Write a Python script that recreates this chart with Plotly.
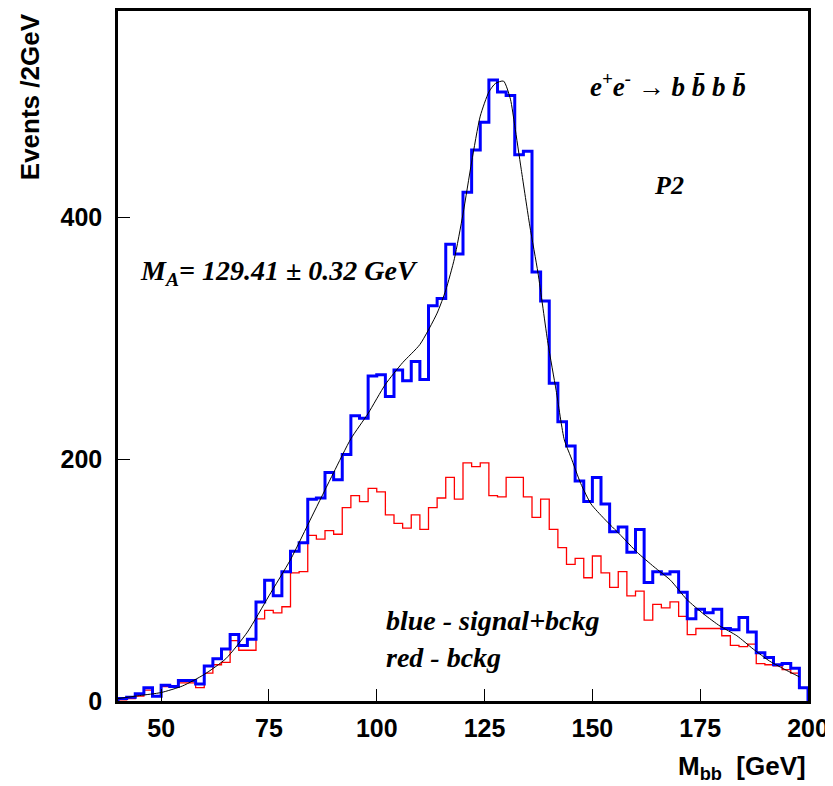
import numpy as np
import plotly.graph_objects as go

# ---- data ----
bin_low = 40.0
bin_width = 2.0
signal_plus_bckg = [2, 3, 6, 11, 4, 13, 12, 17, 17, 14,
                    29, 35, 43, 55, 46, 51, 82, 100, 87, 107,
                    124, 131, 167, 168, 189, 183, 204, 236, 234, 269,
                    270, 252, 274, 265, 281, 266, 327, 333, 378, 370,
                    421, 456, 479, 514, 504, 501, 452, 455, 355, 331,
                    263, 231, 211, 182, 165, 185, 163, 140, 144, 123,
                    142, 98, 107, 105, 107, 90, 68, 76, 73, 76,
                    60, 59, 69, 57, 40, 36, 30, 31, 27, 11]
bckg = [1, 2, 4, 9, 4, 12, 12, 15, 15, 11,
        23, 30, 32, 50, 42, 42, 68, 75, 73, 78,
        106, 107, 137, 134, 141, 138, 160, 170, 165, 176,
        173, 154, 147, 143, 154, 142, 160, 168, 185, 167,
        197, 194, 197, 170, 169, 185, 185, 169, 152, 167,
        142, 127, 113, 118, 102, 120, 106, 94, 107, 87,
        91, 67, 80, 77, 82, 70, 55, 60, 60, 60,
        54, 46, 45, 47, 31, 30, 29, 26, 23, 11]
fit_x = [40, 45, 50, 55, 60, 65, 70, 75, 80, 85, 90, 94, 98, 102, 106, 110,
         114, 116, 118, 120, 122, 124, 126, 127.5, 129.4, 131, 132, 133.5,
         135.5, 137.4, 139.7, 141.6, 143.5, 145, 147.3, 149.7, 152.7, 156.6,
         160.4, 164.3, 168.1, 171.9, 175.8, 179.6, 183.5, 187.3, 191.1, 195, 198]
fit_y = [2, 4.5, 7, 12.5, 22, 35, 57, 87, 117, 153, 189, 217, 238, 262, 280, 295,
         321, 340, 366, 403, 446, 484, 504, 511, 513, 498, 476, 440,
         393, 354, 296, 257, 216, 202, 180, 163, 151, 137,
         123, 111, 100, 84, 72, 62, 54, 43, 33, 25.4, 20]
x_ticks = [50, 75, 100, 125, 150, 175, 200]
y_ticks = [0, 200, 400]

nb = len(signal_plus_bckg)
edges = bin_low + bin_width * np.arange(nb + 1)


def step_xy(vals):
    xs = [edges[0]] + list(edges[:-1]) + [edges[-1], edges[-1]]
    ys = [0] + list(vals) + [vals[-1], 0]
    return xs, ys


fig = go.Figure()
bx, by = step_xy(bckg)
fig.add_trace(go.Scatter(x=bx, y=by, mode="lines", line=dict(color="#ff0000", width=1.3, shape="hv"),
                         hoverinfo="skip", showlegend=False))
sx, sy = step_xy(signal_plus_bckg)
fig.add_trace(go.Scatter(x=sx, y=sy, mode="lines", line=dict(color="#0000ff", width=3, shape="hv"),
                         hoverinfo="skip", showlegend=False))
fig.add_trace(go.Scatter(x=fit_x, y=fit_y, mode="lines",
                         line=dict(color="black", width=1, shape="spline", smoothing=0.6),
                         hoverinfo="skip", showlegend=False))

serif = "Liberation Serif"
sans = "Liberation Sans"

anns = [
    dict(x=148.9, y=510, text="<b><i>e<sup>+</sup>e<sup>-</sup> \u2192 b b\u0304 b b\u0304</i></b>",
         xanchor="left", yanchor="middle", font=dict(family=serif, size=27, color="black")),
    dict(x=167.8, y=427, text="<b><i>P2</i></b>",
         xanchor="center", yanchor="middle", font=dict(family=serif, size=26, color="black")),
    dict(x=44.7, y=355, text="<b><i>M<sub>A</sub>= 129.41 \u00b1 0.32 GeV</i></b>",
         xanchor="left", yanchor="middle", font=dict(family=serif, size=28, color="black")),
    dict(x=101.7, y=66.4, text="<b><i>blue - signal+bckg</i></b>",
         xanchor="left", yanchor="middle", font=dict(family=serif, size=28, color="black")),
    dict(x=101.7, y=35.7, text="<b><i>red - bckg</i></b>",
         xanchor="left", yanchor="middle", font=dict(family=serif, size=28, color="black")),
    dict(xref="paper", yref="paper", x=-0.128, y=1.0, text="<b>Events /2GeV</b>", textangle=-90,
         xanchor="center", yanchor="top", showarrow=False, font=dict(family=sans, size=26, color="black")),
    dict(xref="paper", yref="paper", x=1.0, y=-0.097, text="<b>M<sub>bb</sub>  [GeV]</b>",
         xanchor="right", yanchor="middle", showarrow=False, font=dict(family=sans, size=26, color="black")),
]
for a in anns:
    a.setdefault("showarrow", False)
    fig.add_annotation(**a)

fig.update_xaxes(range=[40, 200], tickvals=x_ticks, ticks="inside", ticklen=12, tickwidth=1.3,
                 tickcolor="black", showline=True, linecolor="black", linewidth=2.5, mirror=True,
                 showgrid=False, zeroline=False, automargin=False,
                 tickfont=dict(family=sans, size=25, color="black", weight="bold"),
                 ticklabelstandoff=3)
fig.update_yaxes(range=[0, 571], tickvals=y_ticks, ticks="inside", ticklen=12, tickwidth=1.3,
                 tickcolor="black", showline=True, linecolor="black", linewidth=2.5, mirror=True,
                 showgrid=False, zeroline=False, automargin=False,
                 tickfont=dict(family=sans, size=25, color="black", weight="bold"),
                 ticklabelstandoff=8)
# page body has an 8px default margin: shrink figure so the plot lands at the reference position
fig.update_layout(width=825, height=778, margin=dict(l=110, r=25, t=3, b=85),
                  plot_bgcolor="white", paper_bgcolor="white")
fig.write_html("out.html")
